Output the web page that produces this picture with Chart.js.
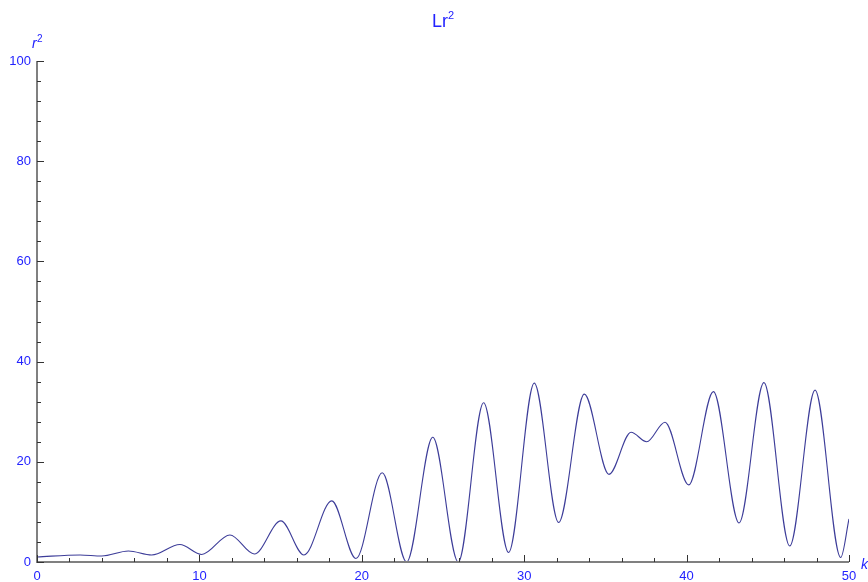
<!DOCTYPE html>
<html lang="en">
<head>
  <meta charset="UTF-8" />
  <title>Lr2</title>
  <style>
    html, body { margin: 0; padding: 0; background: #fff; }
    #wrap { width: 868px; height: 582px; position: relative; }
  </style>
  <script src="https://cdn.jsdelivr.net/npm/chart.js"></script>
</head>
<body>
  <div id="wrap"><canvas id="plot"></canvas></div>

  <script>
    // ─── curve samples (k, r^2) ───────────────────────────
    const kValues = [0, 2.65, 3.98, 5.63, 7.06, 8.8, 10.14, 11.88, 13.38, 15.02,
                     16.44, 18.15, 19.64, 21.26, 22.76, 24.37, 25.94, 27.5, 29.04, 30.62,
                     32.12, 33.7, 35.22, 36.58, 37.54, 38.67, 40.13, 41.65, 43.23, 44.76,
                     46.35, 47.91, 49.49, 50];
    const r2Values = [1.0, 1.4, 1.2, 2.2, 1.4, 3.5, 1.5, 5.4, 1.6, 8.2,
                      1.4, 12.2, 0.7, 17.8, 0.0, 24.9, 0.0, 31.8, 1.9, 35.7,
                      7.9, 33.5, 17.5, 25.9, 24.0, 27.9, 15.4, 34.0, 7.8, 35.8,
                      3.2, 34.3, 0.9, 8.6];

    const xTicks = [0, 10, 20, 30, 40, 50];
    const yTicks = [0, 20, 40, 60, 80, 100];

    const TEXT = '#2222ff';
    const AXIS = '#808080';
    const LINE = '#3d3d99';
    const FONT = 'Liberation Sans, Arial, sans-serif';

    // axes, ticks (inward) and labels drawn by hand
    const axesPlugin = {
      id: 'axesPlugin',
      afterDraw(chart) {
        const { ctx, chartArea: a, scales: { x, y } } = chart;
        ctx.save();
        ctx.strokeStyle = AXIS;
        ctx.lineWidth = 2;
        ctx.beginPath();
        ctx.moveTo(a.left, a.top);
        ctx.lineTo(a.left, a.bottom);
        ctx.lineTo(a.right, a.bottom);
        ctx.stroke();

        ctx.strokeStyle = '#333';
        ctx.lineWidth = 1;
        ctx.beginPath();
        for (let v = 0; v <= 100; v += 4) {
          const py = Math.round(y.getPixelForValue(v)) + 0.5;
          const len = v % 20 === 0 ? 7 : 4;
          ctx.moveTo(a.left, py);
          ctx.lineTo(a.left + len, py);
        }
        for (let v = 0; v <= 50; v += 2) {
          const px = Math.round(x.getPixelForValue(v)) + 0.5;
          const len = v % 10 === 0 ? 7 : 4;
          ctx.moveTo(px, a.bottom);
          ctx.lineTo(px, a.bottom - len);
        }
        ctx.stroke();

        ctx.fillStyle = TEXT;
        ctx.textBaseline = 'alphabetic';
        ctx.textAlign = 'left';
        // title
        ctx.font = '18px ' + FONT;
        const tw = ctx.measureText('Lr').width;
        ctx.font = '11px ' + FONT;
        const sw = ctx.measureText('2').width;
        const tx = (a.left + a.right) / 2 - (tw + sw) / 2;
        ctx.font = '18px ' + FONT;
        ctx.fillText('Lr', tx, 27);
        ctx.font = '11px ' + FONT;
        ctx.fillText('2', tx + tw, 19);
        // y axis label
        ctx.font = 'italic 14px ' + FONT;
        ctx.fillText('r', 32, 48);
        ctx.font = '10px ' + FONT;
        ctx.fillText('2', 37, 42);
        // x axis label
        ctx.font = 'italic 14px ' + FONT;
        ctx.fillText('k', 861, 569);
        ctx.restore();
      }
    };

    const ctx = document.getElementById('plot').getContext('2d');
    new Chart(ctx, {
      type: 'scatter',
      data: {
        datasets: [{
          data: kValues.map((k, i) => ({ x: k, y: r2Values[i] })),
          showLine: true,
          borderColor: LINE,
          borderWidth: 1.1,
          pointRadius: 0,
          cubicInterpolationMode: 'monotone'
        }]
      },
      options: {
        responsive: true,
        maintainAspectRatio: false,
        animation: false,
        layout: { padding: { top: 61, right: 19, left: 0, bottom: 0 } },
        scales: {
          x: {
            type: 'linear', min: 0, max: 50,
            afterBuildTicks: s => { s.ticks = xTicks.map(v => ({ value: v })); },
            afterFit: s => { s.height = 20; },
            grid: { display: false, drawTicks: false },
            border: { display: false },
            ticks: { color: TEXT, font: { size: 13, family: FONT }, padding: 7, maxRotation: 0 }
          },
          y: {
            min: 0, max: 100,
            afterBuildTicks: s => { s.ticks = yTicks.map(v => ({ value: v })); },
            afterFit: s => { s.width = 37; },
            grid: { display: false, drawTicks: false },
            border: { display: false },
            ticks: { color: TEXT, font: { size: 13, family: FONT }, padding: 6 }
          }
        },
        plugins: { legend: { display: false }, tooltip: { enabled: false } }
      },
      plugins: [axesPlugin]
    });
  </script>
</body>
</html>
